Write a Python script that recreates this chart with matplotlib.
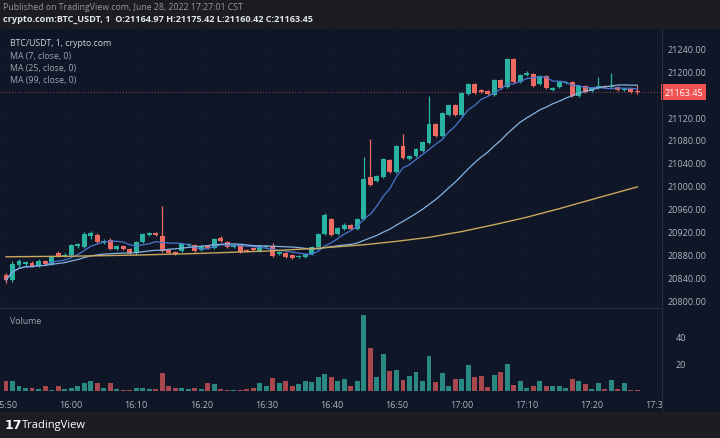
import numpy as np
import pandas as pd
import matplotlib
matplotlib.use('Agg')
import matplotlib.pyplot as plt
from matplotlib.lines import Line2D
from matplotlib.transforms import Bbox, TransformedBbox, blended_transform_factory

# one-minute candles, 15:50 .. 17:27 (crypto.com BTC/USDT)
opens = [20844.2, 20835.5, 20861.6, 20863.4, 20865.1, 20859.9, 20868.6, 20863.4, 20882.6, 20877.4,
         20879.1, 20894.8, 20893.1, 20912.3, 20914.0, 20900.1, 20905.3, 20889.6, 20894.8, 20889.6,
         20882.6, 20901.8, 20914.0, 20917.5, 20912.3, 20887.8, 20884.3, 20886.1, 20896.6, 20896.6,
         20887.8, 20894.8, 20891.3, 20908.8, 20901.8, 20893.1, 20896.6, 20887.8, 20891.3, 20886.1,
         20893.1, 20894.8, 20880.9, 20882.6, 20879.1, 20875.6, 20875.6, 20880.9, 20893.1, 20915.8,
         20942.0, 20915.8, 20924.5, 20931.5, 20924.5, 20942.0, 21015.3, 21008.3, 21015.3, 21045.0,
         21024.0, 21069.4, 21046.7, 21052.0, 21060.7, 21074.7, 21107.8, 21086.9, 21123.5, 21141.0,
         21123.5, 21160.2, 21177.7, 21167.2, 21165.4, 21158.5, 21184.7, 21172.4, 21221.3, 21181.2,
         21193.4, 21195.1, 21177.7, 21191.6, 21167.2, 21172.4, 21179.4, 21181.2, 21156.7, 21174.2,
         21165.4, 21170.7, 21174.2, 21172.4, 21172.4, 21167.2, 21168.9, 21164.97]
closes = [20835.5, 20863.4, 20868.6, 20866.9, 20859.9, 20868.6, 20863.4, 20875.6, 20877.4, 20879.1,
          20896.6, 20898.3, 20915.8, 20917.5, 20901.8, 20903.5, 20889.6, 20894.8, 20889.6, 20882.6,
          20901.8, 20915.8, 20917.5, 20914.0, 20886.1, 20882.6, 20880.9, 20898.3, 20898.3, 20886.1,
          20894.8, 20891.3, 20907.0, 20903.5, 20893.1, 20896.6, 20884.3, 20886.1, 20887.8, 20894.8,
          20894.8, 20877.4, 20884.3, 20875.6, 20873.9, 20877.4, 20880.9, 20893.1, 20915.8, 20948.9,
          20914.0, 20926.2, 20931.5, 20924.5, 20942.0, 21011.8, 21001.3, 21017.0, 21046.7, 21024.0,
          21069.4, 21048.5, 21052.0, 21064.2, 21076.4, 21107.8, 21086.9, 21127.0, 21141.0, 21123.5,
          21162.0, 21177.7, 21162.0, 21163.7, 21160.2, 21184.7, 21170.7, 21221.3, 21181.2, 21193.4,
          21196.9, 21174.2, 21191.6, 21170.7, 21170.7, 21181.2, 21181.2, 21156.7, 21174.2, 21163.7,
          21170.7, 21174.2, 21172.4, 21174.2, 21167.2, 21168.9, 21163.7, 21163.45]
highs = [20847.7, 20868.6, 20872.1, 20868.6, 20868.6, 20872.1, 20870.4, 20877.4, 20886.1, 20882.6,
         20898.3, 20900.1, 20919.3, 20921.0, 20917.5, 20907.0, 20908.8, 20896.6, 20896.6, 20891.3,
         20903.5, 20917.5, 20919.3, 20919.3, 20964.7, 20889.6, 20886.1, 20900.1, 20900.1, 20898.3,
         20896.6, 20896.6, 20908.8, 20912.3, 20903.5, 20898.3, 20898.3, 20889.6, 20893.1, 20896.6,
         20896.6, 20900.1, 20886.1, 20884.3, 20880.9, 20879.1, 20882.6, 20894.8, 20917.5, 20952.4,
         20943.7, 20928.0, 20935.0, 20933.2, 20943.7, 21050.2, 21081.6, 21018.8, 21048.5, 21046.7,
         21071.2, 21090.4, 21053.7, 21065.9, 21078.2, 21156.7, 21109.6, 21128.8, 21142.8, 21142.8,
         21163.7, 21179.4, 21179.4, 21168.9, 21167.2, 21186.4, 21186.4, 21223.1, 21223.1, 21195.1,
         21200.4, 21196.9, 21193.4, 21193.4, 21172.4, 21182.9, 21182.9, 21182.9, 21175.9, 21175.9,
         21172.4, 21189.9, 21175.9, 21196.9, 21174.2, 21170.7, 21170.7, 21175.42]
lows = [20830.2, 20832.0, 20858.2, 20859.9, 20858.2, 20858.2, 20861.6, 20861.6, 20875.6, 20875.6,
        20877.4, 20891.3, 20891.3, 20907.0, 20900.1, 20898.3, 20887.8, 20887.8, 20887.8, 20880.9,
        20879.1, 20900.1, 20912.3, 20912.3, 20884.3, 20880.9, 20879.1, 20884.3, 20894.8, 20884.3,
        20886.1, 20889.6, 20889.6, 20901.8, 20891.3, 20891.3, 20882.6, 20884.3, 20886.1, 20884.3,
        20891.3, 20875.6, 20879.1, 20873.9, 20872.1, 20873.9, 20873.9, 20879.1, 20891.3, 20914.0,
        20912.3, 20914.0, 20922.8, 20922.8, 20922.8, 20940.2, 20999.6, 21006.6, 21013.5, 21022.3,
        21022.3, 21046.7, 21045.0, 21050.2, 21058.9, 21072.9, 21085.1, 21085.1, 21121.8, 21121.8,
        21121.8, 21158.5, 21160.2, 21162.0, 21158.5, 21156.7, 21168.9, 21170.7, 21179.4, 21179.4,
        21191.6, 21172.4, 21175.9, 21168.9, 21165.4, 21170.7, 21177.7, 21155.0, 21155.0, 21162.0,
        21163.7, 21168.9, 21170.7, 21170.7, 21165.4, 21165.4, 21162.0, 21160.42]
volumes = [7.7, 7.0, 3.7, 2.0, 2.0, 1.5, 3.5, 1.0, 3.5, 1.5,
           2.5, 3.5, 5.7, 7.0, 5.7, 2.0, 5.7, 1.5, 0.5, 1.0,
           2.0, 2.5, 1.5, 1.5, 13.0, 3.7, 2.5, 2.0, 1.5, 2.5,
           1.5, 6.2, 5.0, 1.5, 1.0, 1.0, 1.0, 1.5, 2.0, 5.7,
           3.5, 9.4, 5.7, 7.7, 3.5, 5.0, 7.0, 6.5, 10.4, 12.6,
           10.4, 7.0, 8.5, 3.5, 7.7, 55.8, 31.6, 10.4, 27.4, 15.0,
           15.8, 8.4, 11.0, 14.3, 7.7, 26.0, 6.6, 13.3, 4.0, 8.9,
           8.9, 19.3, 10.4, 10.7, 3.0, 11.4, 14.3, 20.0, 4.4, 7.7,
           2.2, 3.5, 7.0, 3.5, 4.0, 3.5, 2.2, 8.9, 7.7, 5.2,
           1.2, 5.7, 1.2, 8.4, 1.2, 5.7, 0.5, 0.5]

# MA(99) (needs history before the visible window)
ma99_idx = [0, 10, 20, 30, 40, 48, 55, 60, 65, 70, 75, 80, 85, 90, 97]
ma99_val = [20876, 20877, 20879, 20882, 20886, 20891, 20897, 20903, 20910, 20920,
            20932, 20945, 20960, 20976, 20998]

time_ticks = [0, 10, 20, 30, 40, 50, 60, 70, 80, 90, 100]
time_labels = ['15:50', '16:00', '16:10', '16:20', '16:30', '16:40', '16:50',
               '17:00', '17:10', '17:20', '17:30']
# 21160.00 sits under the last-price tag, so it is not shown
price_ticks = [20800, 20840, 20880, 20920, 20960, 21000, 21040, 21080, 21120, 21200, 21240]
vol_ticks = [20, 40]
last_price = 21163.45

W, H = 720, 439
BG = '#0f1627'
BAR = '#1c1d22'
UP, DOWN = '#2ab2a2', '#ef6a63'
VUP, VDOWN = '#2a8a83', '#a9474e'
TXT = '#b2b5be'
plt.rcParams['font.family'] = ['Open Sans', 'DejaVu Sans']


def px(x0, y0, x1, y1):
    return [x0 / W, 1 - y1 / H, (x1 - x0) / W, (y1 - y0) / H]


fig = plt.figure(figsize=(W / 100, H / 100), dpi=100)
fig.patch.set_facecolor(BAR)
bg = fig.add_axes(px(0, 30, 720, 413))
bg.set_facecolor(BG)
bg.set_xticks([])
bg.set_yticks([])
for s in bg.spines.values():
    s.set_visible(False)

ax = fig.add_axes(px(0, 30, 662, 309))
axv = fig.add_axes(px(0, 309, 662, 395), sharex=ax)

t = np.arange(len(closes))
o = np.array(opens)
c = np.array(closes)
up = c >= o
cols = np.where(up, UP, DOWN)

for a in (ax, axv):
    a.set_facecolor('none')
    for s in a.spines.values():
        s.set_visible(False)
    a.tick_params(length=0, colors=TXT, labelsize=6.5)
    a.yaxis.tick_right()
    for xt in time_ticks:
        a.axvline(xt, color='#141b2d', lw=0.6, zorder=0)

for pt in price_ticks:
    ax.axhline(pt, color='#141b2d', lw=0.6, zorder=0)

# candles
ax.vlines(t, lows, highs, colors=cols, lw=0.9, zorder=2)
body = np.maximum(np.abs(c - o), 1.2)
ax.bar(t, body, bottom=np.minimum(o, c), width=0.76, color=cols, zorder=3)

# moving averages
cs = pd.Series(closes)
ax.plot(t, cs.rolling(7, min_periods=1).mean(), color='#4a76cf', lw=0.9, zorder=4)
ax.plot(t, cs.rolling(25, min_periods=1).mean(), color='#86b3de', lw=0.9, zorder=4)
ax.plot(ma99_idx, ma99_val, color='#c9a85e', lw=1.0, zorder=4)

ax.axhline(last_price, color=DOWN, lw=0.7, ls=(0, (1, 2)), alpha=0.6, zorder=1)

ax.set_xlim(-0.92, 100.8)
ax.set_ylim(20786.6, 21273.7)
ax.set_yticks(price_ticks)
ax.set_yticklabels(['%.2f' % p for p in price_ticks])
ax.tick_params(axis='y', pad=4)
ax.tick_params(axis='x', labelbottom=False)

tr = blended_transform_factory(ax.transAxes, ax.transData)
ax.text(1.0035, last_price, '%.2f' % last_price, transform=tr, ha='left', va='center',
        fontsize=6.5, color='white', zorder=10,
        bbox=dict(boxstyle='square,pad=0.35', fc='#ef5350', ec='none'))

# volume
axv.bar(t, volumes, width=0.76, color=np.where(up, VUP, VDOWN), zorder=3)
axv.set_ylim(-2.2, 61)
axv.set_yticks(vol_ticks)
axv.set_yticklabels([str(v) for v in vol_ticks])
axv.tick_params(axis='y', pad=10)
axv.set_xticks(time_ticks)
axv.set_xticklabels(time_labels)
axv.tick_params(axis='x', pad=4)
clip = TransformedBbox(Bbox([[0, 0], [662 / W, 1]]), fig.transFigure)
for lbl in axv.get_xticklabels():
    lbl.set_clip_box(clip)
    lbl.set_clip_on(True)

# pane separators
fig.add_artist(Line2D([0, 662 / W], [1 - 309 / H] * 2, color='#262c3b', lw=0.8))
fig.add_artist(Line2D([662 / W] * 2, [1 - 413 / H, 1 - 30 / H], color='#262c3b', lw=0.8))

# texts
fig.text(3 / W, 1 - 7 / H, 'Published on TradingView.com, June 28, 2022 17:27:01 CST',
         fontsize=6.3, color='#9598a1', va='center')
fig.text(3 / W, 1 - 19 / H,
         'crypto.com:BTC_USDT, 1  O:21164.97 H:21175.42 L:21160.42 C:21163.45',
         fontsize=6.6, color='#e0e3eb', fontweight='bold', va='center')
fig.text(10 / W, 1 - 44 / H, 'BTC/USDT, 1, crypto.com', fontsize=6.3, color='#d1d4dc', va='center')
for k, y in zip(['MA (7, close, 0)', 'MA (25, close, 0)', 'MA (99, close, 0)'], [56, 68, 80]):
    fig.text(10 / W, 1 - y / H, k, fontsize=6.3, color='#a3a6af', va='center')
fig.text(10 / W, 1 - 321 / H, 'Volume', fontsize=6.3, color='#a3a6af', va='center')
fig.text(5 / W, 1 - 426 / H, '17', fontsize=9, color='white', fontweight='bold',
         va='center', family='DejaVu Sans')
fig.text(22 / W, 1 - 426 / H, 'TradingView', fontsize=8, color='white', va='center')

fig.savefig('out.png', dpi=100, facecolor=fig.get_facecolor())
